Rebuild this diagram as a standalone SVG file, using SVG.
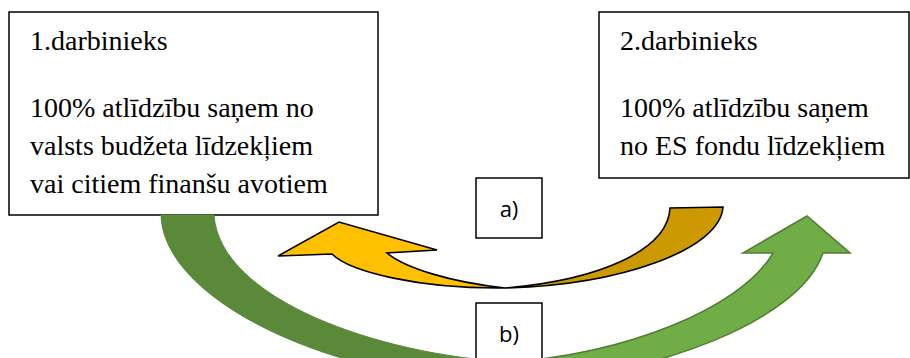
<svg xmlns="http://www.w3.org/2000/svg" width="910" height="358" viewBox="0 0 910 358">
<style>
.box{fill:#fff;stroke:#000;stroke-width:1.5}
.t{font-family:'Liberation Serif','DejaVu Serif','Noto Serif',serif;font-size:28px;fill:#000}
.lab{font-family:'Open Sans','Liberation Sans',sans-serif;font-size:22px;fill:#000;text-anchor:middle}
.yf{fill:#FFC000;stroke:#000;stroke-width:1.6;stroke-linejoin:miter}
.yb{fill:#CC9A00;stroke:#000;stroke-width:1.6}
.gd{fill:#5A8A39;stroke:#5A8A39;stroke-width:1}
.gl{fill:#70AD47;stroke:#507E32;stroke-width:1.6}
</style>
<rect width="910" height="358" fill="#fff"/>
<g id="node1">
<rect class="box" x="9" y="12" width="369" height="203"/>
<text class="t" x="30" y="50">1.darbinieks</text>
<text class="t" x="30" y="117">100% atlīdzību saņem no</text>
<text class="t" x="30" y="155">valsts budžeta līdzekļiem</text>
<text class="t" x="30" y="193">vai citiem finanšu avotiem</text>
</g>
<g id="node2">
<rect class="box" x="599" y="12" width="310" height="166"/>
<text class="t" x="620" y="50">2.darbinieks</text>
<text class="t" x="620" y="117">100% atlīdzību saņem</text>
<text class="t" x="620" y="155">no ES fondu līdzekļiem</text>
</g>
<g id="connectors">
<path class="gd" d="M161,215 C163,300 330,380 510,385 L510,362 C380,355 220,300 214,215 Z"/>
<path class="gl" d="M510,362 C620,355 740,310 773,253 L743,253 L807,216 L850,253 L823,253 C800,320 660,375 510,385 Z"/>
<path class="yb" d="M505,288 C620,285 720,250 723,207 L670,208 C668,250 600,280 505,288 Z"/>
<path class="yf" d="M387,253 C405,268 450,282 505,288 C420,289 350,272 332,254 L278,256 L339,222 L437,250 Z"/>
</g>
<g id="label-a">
<rect class="box" x="476" y="178" width="66" height="60"/>
<text class="lab" x="509" y="217">a)</text>
</g>
<g id="label-b">
<rect class="box" x="476" y="303" width="66" height="70"/>
<text class="lab" x="509" y="342">b)</text>
</g>
</svg>
